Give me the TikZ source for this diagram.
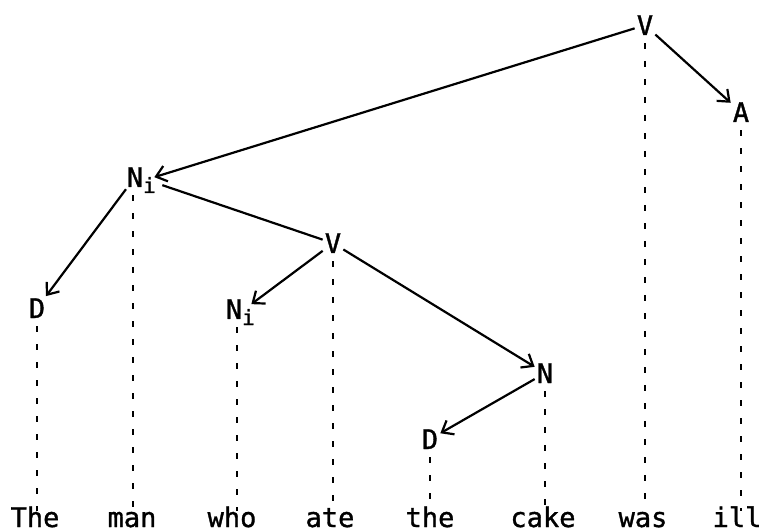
\documentclass[tikz,border=0pt]{standalone}
\usepackage{fontspec}
\setmainfont{DejaVu Sans Mono}[FakeBold=1.2]
\usetikzlibrary{arrows.meta}
\newcommand{\subidx}{\rlap{\smash{\raisebox{-6pt}{\fontsize{21}{21}\selectfont i}}}}
\begin{document}
\begin{tikzpicture}[x=1pt,y=-1pt,
  lbl/.style={font=\fontsize{27}{30}\selectfont, inner sep=2pt, anchor=base},
  word/.style={font=\fontsize{27}{30}\selectfont, inner sep=0pt, anchor=base, text height=16pt, text depth=0pt},
  arr/.style={line width=2.2pt, -{Straight Barb[length=10pt,width=16pt,line width=2.2pt]}},
  lin/.style={line width=2.2pt},
  dsh/.style={line width=1.8pt, dash pattern=on 6pt off 12pt, shorten <=6pt}]
\useasboundingbox (0,0) rectangle (764,532);
% labels
\node[lbl] (v1) at (645,35) {V};
\node[lbl] (a) at (741,122) {A};
\node[lbl] (ni1) at (135,187) {N\subidx};
\node[lbl] (v2) at (333,253) {V};
\node[lbl] (ni2) at (234,319) {N\subidx};
\node[lbl] (d1) at (37,318) {D};
\node[lbl] (n) at (545,383) {N};
\node[lbl] (d2) at (430,449) {D};
% words
\node[word] (w1) at (35,527) {The};
\node[word] (w2) at (132,527) {man};
\node[word] (w3) at (232,527) {who};
\node[word] (w4) at (330,527) {ate};
\node[word] (w5) at (430,527) {the};
\node[word] (w6) at (543,527) {cake};
\node[word] (w7) at (643,527) {was};
\node[word] (w8) at (737,527) {ill};
% arcs
\draw[arr] (v1) -- ([xshift=9pt]ni1.east);
\draw[arr] (v1) -- (a);
\draw[arr] (ni1) -- (d1);
\draw[lin] ([shift={(17pt,-8pt)}]ni1.east) -- (v2);
\draw[arr] (v2) -- ([shift={(7pt,5pt)}]ni2.east);
\draw[arr] (v2) -- (n);
\draw[arr] (n) -- (d2);
% projection lines
\draw[dsh] (d1.south) -- (d1.south |- w1.north);
\draw[dsh] ([xshift=-2pt]ni1.south) -- ([xshift=-2pt]ni1.south |- w2.north);
\draw[dsh] ([xshift=3pt]ni2.south) -- ([xshift=3pt]ni2.south |- w3.north);
\draw[dsh] (v2.south) -- (v2.south |- w4.north);
\draw[dsh] (d2.south) -- (d2.south |- w5.north);
\draw[dsh] (n.south) -- (n.south |- w6.north);
\draw[dsh] (v1.south) -- (v1.south |- w7.north);
\draw[dsh] (a.south) -- (a.south |- w8.north);
\end{tikzpicture}
\end{document}
